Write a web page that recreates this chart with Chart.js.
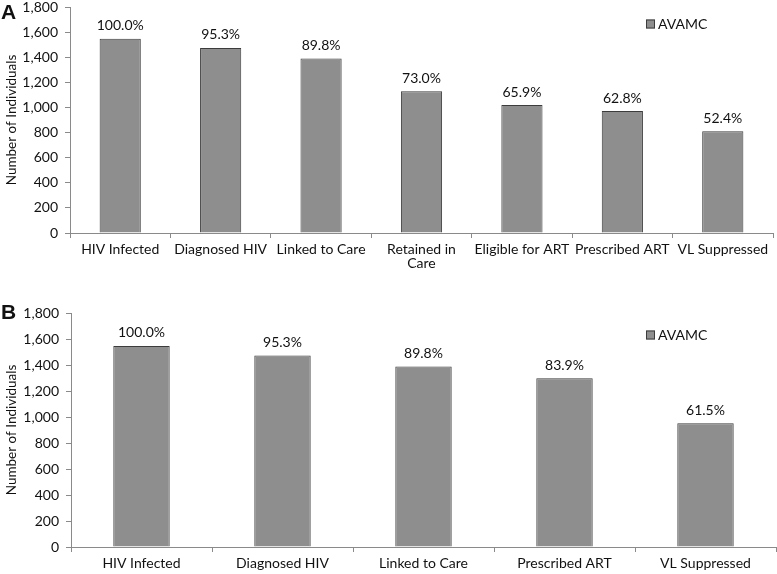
<!DOCTYPE html>
<html lang="en">
  <head>
    <meta charset="UTF-8" />
    <title>HIV care cascade</title>
    <script src="https://cdn.jsdelivr.net/npm/chart.js"></script>
    <style>
      body { margin: 0; background: #fff; }
      #page { position: relative; width: 777px; height: 574px; }
      .panel { position: absolute; left: 0; width: 777px; }
      .tag { position: absolute; left: 1px; font: bold 21px "Liberation Sans", Arial, sans-serif; color: #111; }
    </style>
  </head>
  <body>
    <div id="page">
      <div class="panel" style="top: 0; height: 272px"><canvas id="chartA"></canvas></div>
      <div class="panel" style="top: 280px; height: 294px"><canvas id="chartB"></canvas></div>
      <div class="tag" style="top: 0px">A</div>
      <div class="tag" style="top: 300px">B</div>
    </div>
    <script>
      // panel A
      var labelsA = ["HIV Infected", "Diagnosed HIV", "Linked to Care", ["Retained in", "Care"], "Eligible for ART", "Prescribed ART", "VL Suppressed"];
      var valuesA = [1547, 1474, 1389, 1129, 1019, 971, 811];
      var pctA = ["100.0%", "95.3%", "89.8%", "73.0%", "65.9%", "62.8%", "52.4%"];

      // panel B
      var labelsB = ["HIV Infected", "Diagnosed HIV", "Linked to Care", "Prescribed ART", "VL Suppressed"];
      var valuesB = [1547, 1474, 1389, 1298, 951];
      var pctB = ["100.0%", "95.3%", "89.8%", "83.9%", "61.5%"];

      var yTicks = [0, 200, 400, 600, 800, 1000, 1200, 1400, 1600, 1800];
      var seriesName = "AVAMC";

      var FONT = "Lato, 'Open Sans', sans-serif";
      var FS = 14;
      var barFill = "#8e8e8e";
      var barLine = "#3c3c3c";
      var axisGrey = "#8a8a8a";

      // percentages above the bars
      var pctPlugin = {
        id: "pctLabels",
        afterDatasetsDraw: function (chart, args, opts) {
          var ctx = chart.ctx;
          var meta = chart.getDatasetMeta(0);
          ctx.save();
          ctx.font = FS + "px " + FONT;
          ctx.fillStyle = "#111";
          ctx.textAlign = "center";
          ctx.textBaseline = "middle";
          meta.data.forEach(function (bar, i) {
            ctx.fillText(opts.texts[i], bar.x, bar.y - 13);
          });
          ctx.restore();
        }
      };

      // small legend box at the top right
      var legendPlugin = {
        id: "boxLegend",
        afterDraw: function (chart, args, opts) {
          var ctx = chart.ctx;
          ctx.save();
          ctx.fillStyle = barFill;
          ctx.strokeStyle = barLine;
          ctx.lineWidth = 1;
          ctx.fillRect(opts.x, opts.y - 4.5, 9, 9);
          ctx.strokeRect(opts.x + 0.5, opts.y - 4, 8, 8);
          ctx.fillStyle = "#111";
          ctx.font = FS + "px " + FONT;
          ctx.textBaseline = "middle";
          ctx.fillText(seriesName, opts.x + 12, opts.y);
          ctx.restore();
        }
      };

      function makeChart(id, labels, values, pcts, cfg) {
        var ctx = document.getElementById(id).getContext("2d");
        return new Chart(ctx, {
          type: "bar",
          data: {
            labels: labels,
            datasets: [{
              label: seriesName,
              data: values,
              backgroundColor: barFill,
              borderColor: barLine,
              borderWidth: 1,
              categoryPercentage: 1,
              barPercentage: cfg.barPct
            }]
          },
          options: {
            responsive: true,
            maintainAspectRatio: false,
            animation: false,
            layout: { padding: { top: cfg.padTop, right: cfg.padRight, left: 0, bottom: 0 } },
            plugins: {
              legend: { display: false },
              tooltip: { enabled: false },
              pctLabels: { texts: pcts },
              boxLegend: { x: 646, y: cfg.legendY }
            },
            scales: {
              x: {
                offset: true,
                grid: { drawOnChartArea: false, drawTicks: true, tickLength: 5, color: axisGrey, offset: true },
                border: { color: axisGrey },
                ticks: { color: "#111", font: { family: FONT, size: FS, lineHeight: 1.0 }, maxRotation: 0, autoSkip: false, padding: 4 },
                afterFit: function (s) {
                  s.height = cfg.xHeight;
                  s.paddingLeft = 0;
                  s.paddingRight = 0;
                }
              },
              y: {
                min: 0,
                max: 1800,
                afterBuildTicks: function (s) { s.ticks = yTicks.map(function (v) { return { value: v }; }); },
                grid: { drawOnChartArea: false, drawTicks: true, tickLength: 5, color: axisGrey },
                border: { color: axisGrey },
                ticks: {
                  color: "#111",
                  font: { family: FONT, size: FS },
                  padding: 7,
                  callback: function (v) { return v.toLocaleString("en-US"); }
                },
                title: { display: true, text: "Number of Individuals", color: "#111", font: { family: FONT, size: 13.5 }, padding: { top: 4, bottom: 0 } },
                afterFit: function (s) {
                  s.width = cfg.yWidth;
                  s.paddingTop = 0;
                  s.paddingBottom = 0;
                }
              }
            }
          },
          plugins: [pctPlugin, legendPlugin]
        });
      }

      makeChart("chartA", labelsA, valuesA, pctA, { barPct: 0.41, padTop: 7, padRight: 4, xHeight: 39, yWidth: 70, legendY: 24 });
      makeChart("chartB", labelsB, valuesB, pctB, { barPct: 0.40, padTop: 33, padRight: 1, xHeight: 27, yWidth: 71, legendY: 55 });
    </script>
  </body>
</html>
